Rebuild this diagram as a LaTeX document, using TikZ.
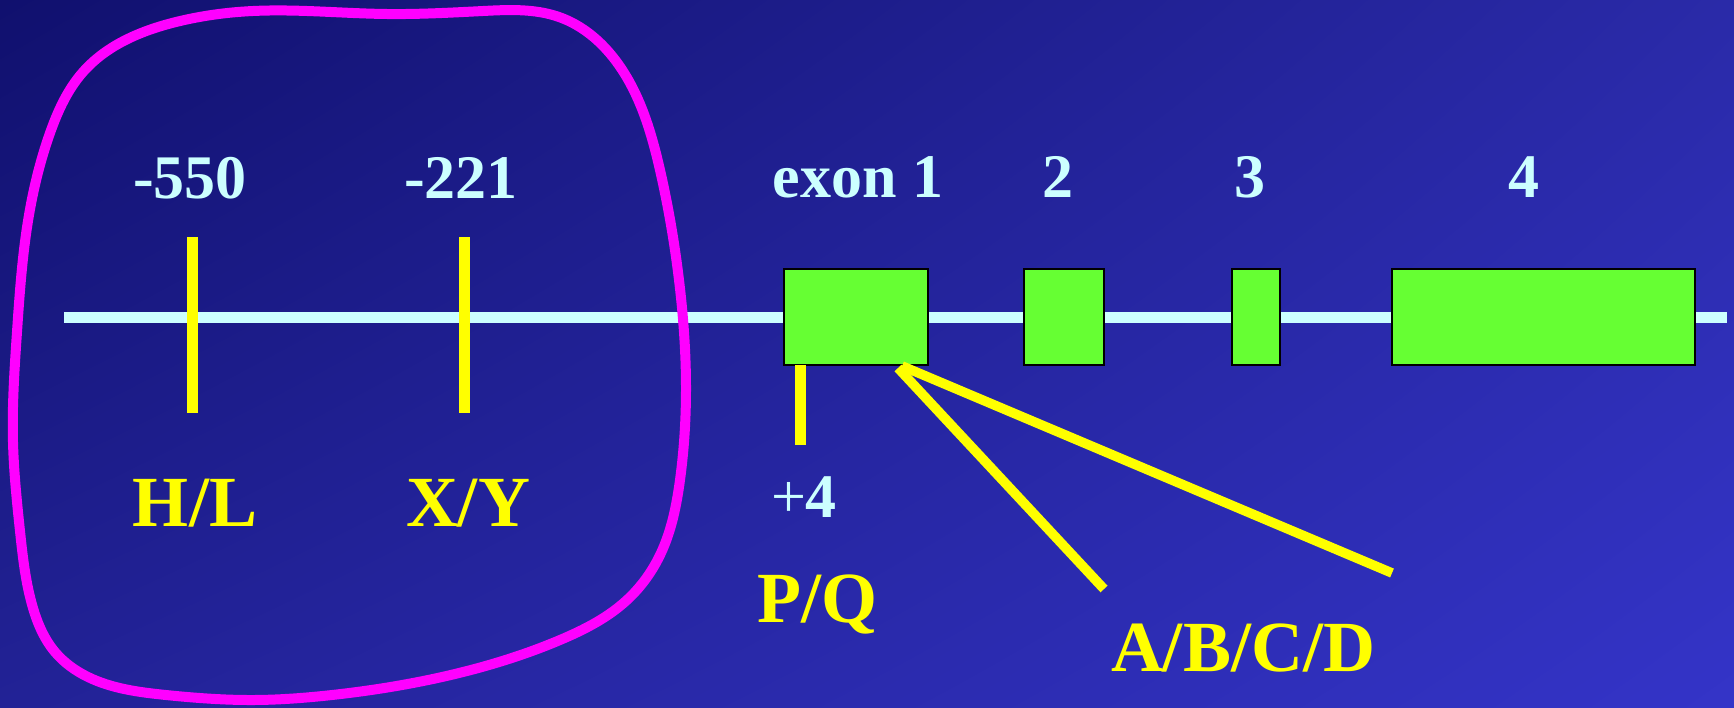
\documentclass[tikz,border=0pt]{standalone}
\usepackage{fontspec}
\setmainfont{Liberation Serif}
\usetikzlibrary{shadings,hobby}
\definecolor{lcyan}{HTML}{CCFFFF}
\definecolor{egreen}{HTML}{66FF33}
\definecolor{magenta}{HTML}{FF00FF}
\definecolor{yellow}{HTML}{FFFF00}
\definecolor{bgul}{RGB}{16,16,110}
\definecolor{bgur}{RGB}{42,42,168}
\definecolor{bgll}{RGB}{34,34,150}
\definecolor{bglr}{RGB}{52,52,200}
\begin{document}
\begin{tikzpicture}[x=0.5pt,y=-0.5pt,
  cyantxt/.style={text=lcyan,font=\bfseries\fontsize{31}{36}\selectfont,anchor=base,inner sep=0pt},
  yeltxt/.style={text=yellow,font=\bfseries\fontsize{36}{42}\selectfont,anchor=base,inner sep=0pt},
  exonbox/.style={draw=black,line width=1pt,fill=egreen},
  tick/.style={draw=yellow,line width=5.5pt},
  diag/.style={draw=yellow,line width=4.8pt},
  blob/.style={draw=magenta,line width=5pt}]
\useasboundingbox (0,0) rectangle (1734,707);
\shade[upper left=bgul,upper right=bgur,lower left=bgll,lower right=bglr]
  (0,0) rectangle (1734,707);
% main line
\coordinate (L0) at (64,317);
\coordinate (L1) at (1727,317);
\draw[lcyan,line width=5.5pt] (L0) -- (L1);
% exons
\node[exonbox,minimum width=72pt,minimum height=48pt,inner sep=0pt] (e1) at (856,317) {};
\node[exonbox,minimum width=40pt,minimum height=48pt,inner sep=0pt] (e2) at (1064,317) {};
\node[exonbox,minimum width=24pt,minimum height=48pt,inner sep=0pt] (e3) at (1256,317) {};
\node[exonbox,minimum width=151.5pt,minimum height=48pt,inner sep=0pt] (e4) at (1543.5,317) {};
% labels
\node[cyantxt] (l550) at (190,198) {-550};
\node[cyantxt] (l221) at (461,198) {-221};
\node[cyantxt] (lex1) at (858,197) {exon 1};
\node[cyantxt] (lex2) at (1058,197) {2};
\node[cyantxt] (lex3) at (1250,197) {3};
\node[cyantxt] (lex4) at (1524,197) {4};
\node[cyantxt] (lp4) at (804,517) {{\mdseries +}4};
\node[yeltxt] (lhl) at (195,526) {H/L};
\node[yeltxt] (lxy) at (468,526) {X/Y};
\node[yeltxt] (lpq) at (817,622) {P/Q};
\node[yeltxt] (labcd) at (1243,671) {A/B/C/D};
% ticks
\coordinate (t1a) at (192,237); \coordinate (t1b) at (192,413);
\coordinate (t2a) at (464,237); \coordinate (t2b) at (464,413);
\coordinate (t3a) at (800,365); \coordinate (t3b) at (800,445);
\draw[tick] (t1a) -- (t1b);
\draw[tick] (t2a) -- (t2b);
\draw[tick] (t3a) -- (t3b);
% diagonals
\coordinate (apex1) at (898,368);
\coordinate (apex2) at (902,366);
\coordinate (d1) at (1104,589);
\coordinate (d2) at (1392,573);
\draw[diag] (apex1) -- (d1);
\draw[diag] (apex2) -- (d2);
% magenta outline
\draw[blob,use Hobby shortcut,closed=true]
 (253,11) .. (387,14) .. (483,11) .. (559,17) .. (630,83) .. (660,170)
 .. (679,280) .. (686,390) .. (680,480) .. (661,553) .. (627,600)
 .. (560,640) .. (442,677) .. (332,695) .. (254,700) .. (166,695)
 .. (88,677) .. (55,652) .. (33,608) .. (20,531) .. (13,442) .. (17,332)
 .. (28,221) .. (50,133) .. (83,72) .. (176,22);
\end{tikzpicture}
\end{document}
